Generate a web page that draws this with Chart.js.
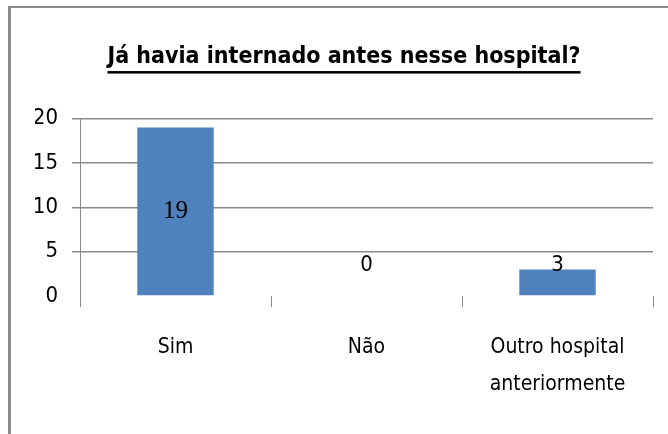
<!DOCTYPE html>
<html>
<head>
<meta charset="utf-8">
<script src="https://cdn.jsdelivr.net/npm/chart.js@4"></script>
<style>
  html, body { margin: 0; padding: 0; background: #fff; }
  #wrap { position: relative; width: 668px; height: 434px; }
</style>
</head>
<body>
<div id="wrap"><canvas id="chart" width="668" height="434"></canvas></div>
<script>
// Data
const categories = ['Sim', 'Não', ['Outro hospital', 'anteriormente']];
const counts = [19, 0, 3];
const yTicks = [0, 5, 10, 15, 20];
const titleText = 'Já havia internado antes nesse hospital?';

const FONT = '"Liberation Sans Narrow", "DejaVu Sans Condensed", sans-serif';
const GRID = '#8a8a8a';

// Frame lines (top and left edge of the box)
const framePlugin = {
  id: 'frame',
  beforeDraw(chart) {
    const ctx = chart.ctx;
    ctx.save();
    ctx.fillStyle = '#8c8c8c';
    ctx.fillRect(8, 6, 660, 2);
    ctx.fillRect(8, 6, 3, 428);
    ctx.restore();
  }
};

// Underline below the title
const underlinePlugin = {
  id: 'underline',
  afterDraw(chart) {
    const t = chart.titleBlock;
    const opts = chart.options.plugins.title;
    const size = opts.font.size;
    const ctx = chart.ctx;
    ctx.save();
    ctx.font = `bold ${size}px ${FONT}`;
    const w = ctx.measureText(titleText).width;
    const cx = (t.left + t.right) / 2;
    const lh = size * opts.font.lineHeight;
    const y = t.top + opts.padding.top + lh / 2 + size * 0.62;
    ctx.fillStyle = '#000';
    ctx.fillRect(cx - w / 2, y, w, 2.5);
    ctx.restore();
  }
};

// Value labels on the bars
const valueLabels = {
  id: 'valueLabels',
  afterDatasetsDraw(chart) {
    const ctx = chart.ctx;
    const yScale = chart.scales.y;
    const meta = chart.getDatasetMeta(0);
    ctx.save();
    ctx.fillStyle = '#000';
    ctx.textAlign = 'center';
    ctx.textBaseline = 'middle';
    meta.data.forEach((bar, i) => {
      const v = counts[i];
      const y = yScale.getPixelForValue(Math.max(v / 2, 3.5));
      ctx.font = v > 10 ? `25px "Liberation Serif", serif` : `22px ${FONT}`;
      ctx.fillText(String(v), bar.x, y);
    });
    ctx.restore();
  }
};

new Chart(document.getElementById('chart'), {
  type: 'bar',
  data: {
    labels: categories,
    datasets: [{
      data: counts,
      backgroundColor: '#4F81BD',
      borderWidth: 0,
      barPercentage: 0.4,
      categoryPercentage: 1
    }]
  },
  options: {
    responsive: false,
    animation: false,
    layout: { padding: { left: 35, right: 15, top: 0, bottom: 0 } },
    plugins: {
      legend: { display: false },
      tooltip: { enabled: false },
      title: {
        display: true,
        text: titleText,
        color: '#000',
        font: { family: FONT, size: 23, weight: 'bold', lineHeight: 1.2 },
        padding: { top: 43, bottom: 48 }
      }
    },
    scales: {
      x: {
        offset: true,
        border: { display: false },
        grid: {
          offset: true,
          drawOnChartArea: false,
          drawTicks: true,
          tickLength: 11,
          color: GRID,
          lineWidth: 1
        },
        ticks: {
          color: '#000',
          padding: 22,
          maxRotation: 0,
          font: { family: FONT, size: 21, lineHeight: 1.75 }
        },
        afterFit(scale) { scale.height = 138; }
      },
      y: {
        min: 0,
        max: 20,
        afterBuildTicks(scale) { scale.ticks = yTicks.map(v => ({ value: v })); },
        border: { display: true, color: GRID, width: 1 },
        grid: {
          color: ctx => ctx.tick && ctx.tick.value === 0 ? 'rgba(0,0,0,0)' : GRID,
          lineWidth: 1.5,
          tickLength: 8
        },
        ticks: {
          color: '#000',
          padding: 14,
          font: { family: FONT, size: 22 }
        },
        afterFit(scale) { scale.width = 45; }
      }
    }
  },
  plugins: [framePlugin, underlinePlugin, valueLabels]
});
</script>
</body>
</html>
